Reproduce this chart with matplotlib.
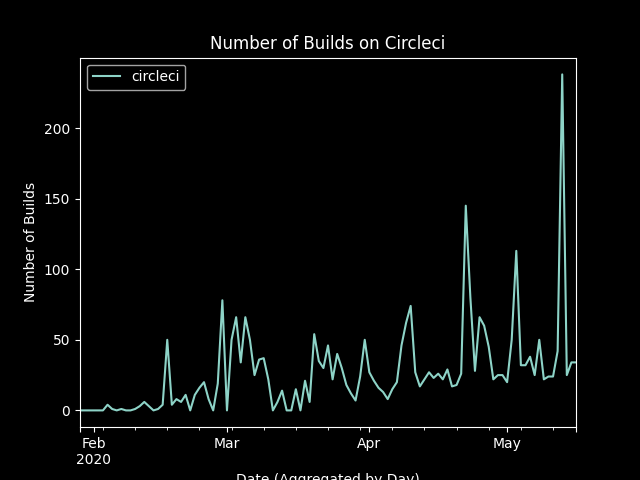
import numpy as np
import pandas as pd
import matplotlib
matplotlib.use("Agg")
import matplotlib.pyplot as plt

plt.style.use("dark_background")

jan_builds = [0, 0, 0]
feb_builds = [0, 0, 0, 4, 1, 0, 1, 0, 0, 1, 3, 6, 3, 0, 1, 4, 50, 4, 8, 6,
              11, 0, 11, 16, 20, 8, 0, 19, 78]
mar_builds = [0, 50, 66, 34, 66, 50, 25, 36, 37, 22, 0, 6, 14, 0, 0, 15, 0,
              21, 6, 54, 35, 30, 46, 22, 40, 30, 18, 12, 7, 24, 50]
apr_builds = [27, 21, 16, 13, 8, 15, 20, 46, 62, 74, 27, 17, 22, 27, 23, 26,
              22, 29, 17, 18, 26, 145, 80, 28, 66, 60, 45, 22, 25, 25]
may_builds = [20, 50, 113, 32, 32, 38, 25, 50, 22, 24, 24, 42, 238, 25, 34, 34]

builds = jan_builds + feb_builds + mar_builds + apr_builds + may_builds
dates = pd.date_range("2020-01-29", periods=len(builds), freq="D")

df = pd.DataFrame({"circleci": builds}, index=dates)

fig, ax = plt.subplots(figsize=(6.4, 4.8), dpi=100)
df.plot(ax=ax, color="#8dd3c7")
ax.set_title("Number of Builds on Circleci")
ax.set_ylabel("Number of Builds")
ax.set_xlabel("Date (Aggregated by Day)")
ax.legend(loc="upper left")

plt.savefig("out.png", dpi=100)
